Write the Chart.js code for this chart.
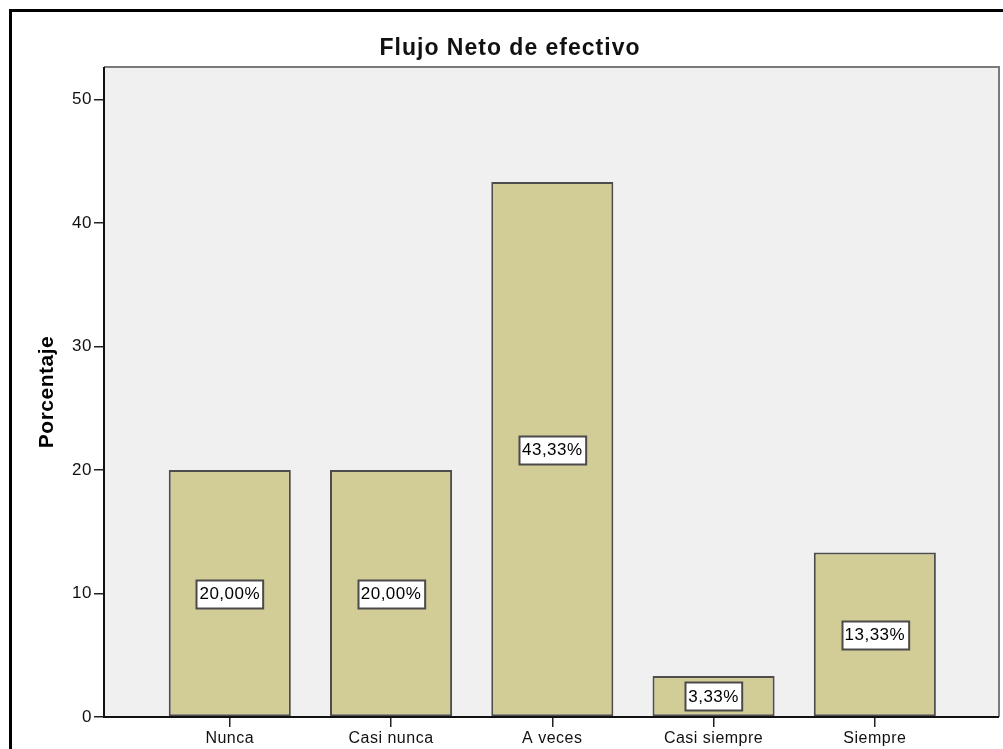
<!DOCTYPE html>
<html>
<head>
<meta charset="utf-8">
<title>Flujo Neto de efectivo</title>
<script src="https://cdn.jsdelivr.net/npm/chart.js@4.4.1/dist/chart.umd.min.js"></script>
<style>
  html, body { margin: 0; padding: 0; background: #fff; }
  #wrap { position: relative; width: 1003px; height: 749px; }
</style>
</head>
<body>
<div id="wrap"><canvas id="chart" width="1003" height="749"></canvas></div>
<script>
'use strict';

const TITLE = 'Flujo Neto de efectivo';
const Y_LABEL = 'Porcentaje';
const CATEGORIES = ['Nunca', 'Casi nunca', 'A veces', 'Casi siempre', 'Siempre'];
const PERCENTS = [20.00, 20.00, 43.33, 3.33, 13.33];
const Y_TICKS = [0, 10, 20, 30, 40, 50];

const FONT = "'Liberation Sans', Arial, sans-serif";
const BAR_FILL = '#d2cd97';
const BAR_EDGE = '#4d4d4d';
const PLOT_BG = '#f0f0f0';

const fmtPct = v => v.toFixed(2).replace('.', ',') + '%';

// frame, title and value boxes drawn around the plot
const spssFrame = {
    id: 'spssFrame',
    beforeDraw(chart) {
        const { ctx, chartArea: a } = chart;
        ctx.save();
        ctx.fillStyle = '#fff';
        ctx.fillRect(0, 0, chart.width, chart.height);
        // outer black frame (only top and left fall inside the canvas)
        ctx.fillStyle = '#000';
        ctx.fillRect(9, 9, chart.width - 9, 3);
        ctx.fillRect(9, 9, 3, chart.height - 9);
        ctx.fillStyle = PLOT_BG;
        ctx.fillRect(a.left, a.top, a.right - a.left, a.bottom - a.top);
        // title
        ctx.fillStyle = '#111';
        ctx.font = 'bold 23px ' + FONT;
        ctx.letterSpacing = '1px';
        ctx.textAlign = 'center';
        ctx.textBaseline = 'alphabetic';
        ctx.fillText(TITLE, 510, 55);
        ctx.restore();
        ctx.letterSpacing = '0.5px';
    },
    afterDatasetsDraw(chart) {
        const { ctx, chartArea: a } = chart;
        const yScale = chart.scales.y;
        ctx.save();
        // plot borders
        ctx.lineWidth = 2;
        ctx.strokeStyle = '#7a7a7a';
        ctx.beginPath();
        ctx.moveTo(a.left, a.top);
        ctx.lineTo(a.right, a.top);
        ctx.lineTo(a.right, a.bottom);
        ctx.stroke();
        ctx.strokeStyle = '#111';
        ctx.beginPath();
        ctx.moveTo(a.left, a.top);
        ctx.lineTo(a.left, a.bottom);
        ctx.lineTo(a.right, a.bottom);
        ctx.stroke();

        // value boxes at half bar height
        ctx.font = '17px ' + FONT;
        ctx.letterSpacing = '0.5px';
        ctx.textAlign = 'center';
        ctx.textBaseline = 'middle';
        chart.getDatasetMeta(0).data.forEach((bar, i) => {
            const txt = fmtPct(PERCENTS[i]);
            const cy = yScale.getPixelForValue(PERCENTS[i] / 2);
            const w = ctx.measureText(txt).width + 6;
            const h = 28;
            const x0 = Math.round(bar.x - w / 2) + 0.5;
            const y0 = Math.round(cy - h / 2) + 0.5;
            ctx.fillStyle = '#fff';
            ctx.fillRect(x0, y0, w, h);
            ctx.lineWidth = 2;
            ctx.strokeStyle = '#4a4a4a';
            ctx.strokeRect(x0, y0, w, h);
            ctx.fillStyle = '#000';
            ctx.fillText(txt, bar.x, cy + 1);
        });
        ctx.restore();
    }
};

new Chart(document.getElementById('chart'), {
    type: 'bar',
    data: {
        datasets: [{
            label: Y_LABEL,
            data: PERCENTS.map((v, i) => ({ x: i, y: v })),
            backgroundColor: BAR_FILL,
            borderColor: BAR_EDGE,
            borderWidth: 2,
            borderSkipped: false,
            barPercentage: 0.757,
            categoryPercentage: 1
        }]
    },
    options: {
        responsive: false,
        animation: false,
        devicePixelRatio: 1,
        layout: { padding: { top: 67, right: 4, bottom: 0, left: 0 } },
        plugins: { legend: { display: false }, title: { display: false }, tooltip: { enabled: false } },
        scales: {
            x: {
                type: 'linear', min: -0.78, max: 4.77, offset: false,
                afterBuildTicks: s => { s.ticks = CATEGORIES.map((_, i) => ({ value: i })); },
                afterFit: s => { s.height = 32; },
                grid: { drawOnChartArea: false, offset: false, tickLength: 10, color: '#222', lineWidth: 1.5 },
                border: { display: false },
                ticks: {
                    color: '#111', padding: 2, maxRotation: 0, autoSkip: false,
                    font: { size: 16, family: FONT },
                    callback: v => CATEGORIES[v] ?? ''
                }
            },
            y: {
                min: 0, max: 52.65,
                afterBuildTicks: s => { s.ticks = Y_TICKS.map(v => ({ value: v })); },
                afterFit: s => { s.width = 104; },
                grid: { drawOnChartArea: false, tickLength: 10, color: '#222', lineWidth: 1.5 },
                border: { display: false },
                ticks: { color: '#111', padding: 2, font: { size: 17, family: FONT } },
                title: {
                    display: true, text: Y_LABEL, color: '#000',
                    font: { size: 21, weight: 'bold', family: FONT },
                    padding: { top: 35, bottom: 0 }
                }
            }
        }
    },
    plugins: [spssFrame]
});
</script>
</body>
</html>
